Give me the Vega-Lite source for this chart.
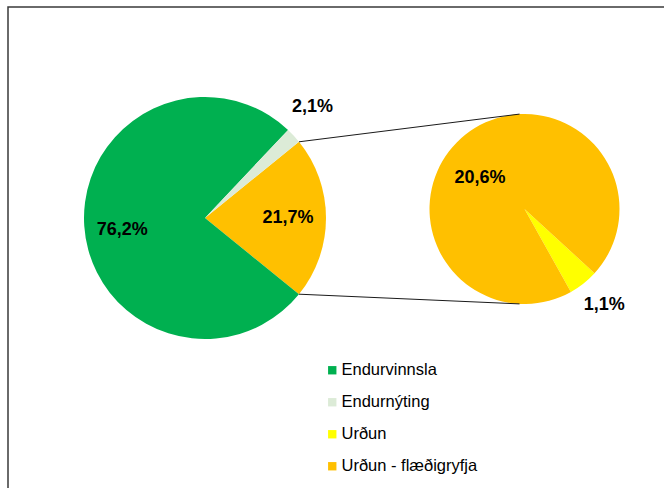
{
  "$schema": "https://vega.github.io/schema/vega-lite/v6.json",
  "width": 660,
  "height": 485,
  "autosize": {"type": "none"},
  "padding": {"left": 8, "top": 7, "right": 0, "bottom": 0},
  "background": "white",
  "config": {"view": {"stroke": "#3a3a3a", "strokeWidth": 1.5}, "font": "Liberation Sans"},
  "data": {"values": [
    {"pie": "Heild", "cat": "Urðun - flæðigryfja", "v": 21.7, "lbl": "21,7%", "o": 1},
    {"pie": "Heild", "cat": "Endurvinnsla", "v": 76.2, "lbl": "76,2%", "o": 2},
    {"pie": "Heild", "cat": "Endurnýting", "v": 2.1, "lbl": "2,1%", "o": 3},
    {"pie": "Urðun", "cat": "Urðun", "v": 1.1, "lbl": "1,1%", "o": 1},
    {"pie": "Urðun", "cat": "Urðun - flæðigryfja", "v": 20.6, "lbl": "20,6%", "o": 2}
  ]},
  "layer": [
    {
      "transform": [{"filter": "datum.pie == 'Heild'"}],
      "mark": {"type": "arc", "x": 197, "y": 211, "outerRadius": 121},
      "encoding": {
        "theta": {"field": "v", "type": "quantitative", "stack": true, "scale": {"range": [0.889, 7.172]}},
        "order": {"field": "o", "type": "quantitative"},
        "color": {
          "field": "cat", "type": "nominal",
          "scale": {"domain": ["Endurvinnsla", "Endurnýting", "Urðun", "Urðun - flæðigryfja"], "range": ["#00B050", "#DCEBD7", "#FFFF00", "#FFC000"]},
          "legend": {"orient": "none", "legendX": 316, "legendY": 355, "title": null, "symbolType": "square", "symbolSize": 70, "symbolStrokeWidth": 0, "labelFontSize": 16.5, "labelFont": "Liberation Sans", "labelColor": "#000000", "labelOffset": 1, "rowPadding": 15, "padding": 0, "labelLimit": 300}
        }
      }
    },
    {
      "transform": [{"filter": "datum.pie == 'Heild'"}],
      "mark": {"type": "text", "x": 197, "y": 211, "radius": 83, "fontSize": 18, "fontWeight": "bold", "color": "#000000"},
      "encoding": {
        "theta": {"field": "v", "type": "quantitative", "stack": true, "scale": {"range": [0.889, 7.172]}},
        "order": {"field": "o", "type": "quantitative"},
        "text": {"condition": {"test": "datum.cat == 'Urðun - flæðigryfja'", "field": "lbl"}, "value": ""}
      }
    },
    {
      "transform": [{"filter": "datum.pie == 'Heild'"}],
      "mark": {"type": "text", "x": 197, "y": 211, "radius": 83, "dy": 7, "fontSize": 18, "fontWeight": "bold", "color": "#000000"},
      "encoding": {
        "theta": {"field": "v", "type": "quantitative", "stack": true, "scale": {"range": [0.889, 7.172]}},
        "order": {"field": "o", "type": "quantitative"},
        "text": {"condition": {"test": "datum.cat == 'Endurvinnsla'", "field": "lbl"}, "value": ""}
      }
    },
    {
      "transform": [{"filter": "datum.pie == 'Heild'"}],
      "mark": {"type": "text", "x": 197, "y": 211, "radius": 152, "dx": -4, "dy": -8, "fontSize": 18, "fontWeight": "bold", "color": "#000000"},
      "encoding": {
        "theta": {"field": "v", "type": "quantitative", "stack": true, "scale": {"range": [0.889, 7.172]}},
        "order": {"field": "o", "type": "quantitative"},
        "text": {"condition": {"test": "datum.cat == 'Endurnýting'", "field": "lbl"}, "value": ""}
      }
    },
    {
      "transform": [{"filter": "datum.pie == 'Urðun'"}],
      "mark": {"type": "arc", "x": 516.5, "y": 202, "outerRadius": 95},
      "encoding": {
        "theta": {"field": "v", "type": "quantitative", "stack": true, "scale": {"range": [2.3126, 8.5958]}},
        "order": {"field": "o", "type": "quantitative"},
        "color": {"field": "cat", "type": "nominal", "legend": null}
      }
    },
    {
      "transform": [{"filter": "datum.pie == 'Urðun'"}],
      "mark": {"type": "text", "x": 516.5, "y": 202, "radius": 54, "dx": -11, "dy": 11, "fontSize": 18, "fontWeight": "bold", "color": "#000000"},
      "encoding": {
        "theta": {"field": "v", "type": "quantitative", "stack": true, "scale": {"range": [2.3126, 8.5958]}},
        "order": {"field": "o", "type": "quantitative"},
        "text": {"condition": {"test": "datum.cat != 'Urðun'", "field": "lbl"}, "value": ""}
      }
    },
    {
      "transform": [{"filter": "datum.pie == 'Urðun'"}],
      "mark": {"type": "text", "x": 516.5, "y": 202, "radius": 122, "dx": 4, "fontSize": 18, "fontWeight": "bold", "color": "#000000"},
      "encoding": {
        "theta": {"field": "v", "type": "quantitative", "stack": true, "scale": {"range": [2.3126, 8.5958]}},
        "order": {"field": "o", "type": "quantitative"},
        "text": {"condition": {"test": "datum.cat == 'Urðun'", "field": "lbl"}, "value": ""}
      }
    },
    {
      "data": {"values": [
        {"x": 291, "y": 134.8, "x2": 511.5, "y2": 107.1},
        {"x": 291, "y": 287.2, "x2": 511.5, "y2": 296.9}
      ]},
      "mark": {"type": "rule", "color": "#1a1a1a", "strokeWidth": 1},
      "encoding": {
        "x": {"field": "x", "type": "quantitative", "scale": {"domain": [0, 660]}, "axis": null},
        "y": {"field": "y", "type": "quantitative", "scale": {"domain": [485, 0]}, "axis": null},
        "x2": {"field": "x2"},
        "y2": {"field": "y2"}
      }
    }
  ],
  "resolve": {"scale": {"theta": "independent"}}
}
